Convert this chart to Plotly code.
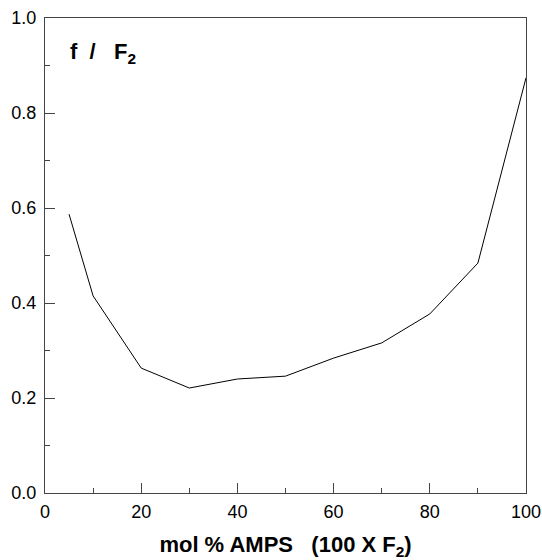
import plotly.graph_objects as go

mol_pct = [5, 10, 20, 30, 40, 50, 60, 70, 80, 90, 100]
ratio = [0.587, 0.415, 0.263, 0.221, 0.240, 0.246, 0.284, 0.316, 0.377, 0.484, 0.874]

x_major = [0, 20, 40, 60, 80, 100]
x_minor = [10, 30, 50, 70, 90]
y_major = [0.0, 0.2, 0.4, 0.6, 0.8, 1.0]
y_minor = [0.1, 0.3, 0.5, 0.7, 0.9]
y_labels = ["0.0", "0.2", "0.4", "0.6", "0.8", "1.0"]

fig = go.Figure()
fig.add_trace(go.Scatter(x=mol_pct, y=ratio, mode="lines",
                         line=dict(color="black", width=1), showlegend=False))

font = "Liberation Sans, Arial, sans-serif"
axis_col = "#444"
fig.update_layout(
    width=542, height=560,
    margin=dict(l=45, r=16, t=18, b=67),
    plot_bgcolor="white", paper_bgcolor="white",
    font=dict(family=font, color="black", size=18),
    xaxis=dict(range=[0, 100], tickvals=x_major, ticktext=[str(v) for v in x_major],
               ticks="inside", ticklen=10, tickcolor=axis_col, tickwidth=1,
               minor=dict(tickvals=x_minor, ticks="inside", ticklen=5, tickcolor=axis_col),
               showline=True, linecolor=axis_col, linewidth=1, mirror=True,
               showgrid=False, zeroline=False, automargin=False,
               ticklabelstandoff=2,
               title=dict(text="<b>mol % AMPS   (100 X F<sub>2</sub>)</b>",
                          font=dict(size=22), standoff=17)),
    yaxis=dict(range=[0, 1.0], tickvals=y_major, ticktext=y_labels,
               ticks="inside", ticklen=10, tickcolor=axis_col, tickwidth=1,
               minor=dict(tickvals=y_minor, ticks="inside", ticklen=5, tickcolor=axis_col),
               showline=True, linecolor=axis_col, linewidth=1, mirror=True,
               showgrid=False, zeroline=False, automargin=False,
               ticklabelstandoff=4),
    annotations=[dict(x=0.047, y=0.96, xref="paper", yref="paper",
                      xanchor="left", yanchor="top", showarrow=False,
                      text="<b>f  /   F<sub>2</sub></b>", font=dict(size=22))],
)

fig.write_html("out.html")
